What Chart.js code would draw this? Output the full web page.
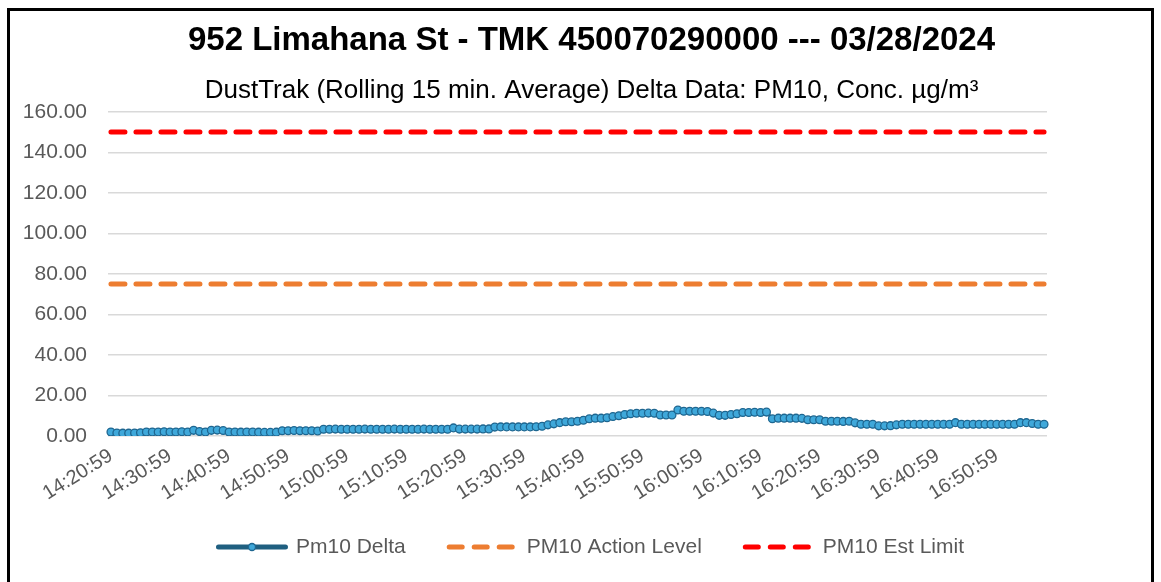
<!DOCTYPE html>
<html>
<head>
<meta charset="utf-8">
<script src="https://cdn.jsdelivr.net/npm/chart.js@4.4.1/dist/chart.umd.min.js"></script>
<style>
  html, body { margin: 0; padding: 0; background: #fff; }
  #frame { position: absolute; left: 7px; top: 8px; width: 1147px; height: 600px; border: 3px solid #000; box-sizing: border-box; }
  #wrap { position: absolute; left: 0; top: 0; width: 1161px; height: 582px; }
</style>
</head>
<body>
<div id="frame"></div>
<div id="wrap"><canvas id="dustChart"></canvas></div>
<script>
// one reading per minute, 14:20:59 .. 16:58:59
const times = [];
for (let m = 14 * 60 + 20; m <= 16 * 60 + 58; m++) {
  times.push(Math.floor(m / 60) + ':' + String(m % 60).padStart(2, '0') + ':59');
}

const pm10Delta = [
  2.0, 1.5, 1.4, 1.4, 1.5, 1.6,
  2.0, 2.0, 2.0, 2.1, 2.0, 2.0, 2.1, 2.0,
  2.8, 2.2, 2.0, 2.8, 2.9, 2.7,
  2.0, 2.0, 1.9, 2.0, 2.0, 1.9,
  1.8, 1.8, 1.9,
  2.6, 2.6, 2.7, 2.6, 2.6, 2.6, 2.5,
  3.3, 3.3, 3.4, 3.3, 3.3, 3.3, 3.3, 3.4, 3.3, 3.3, 3.3,
  3.3, 3.4, 3.3, 3.3, 3.3, 3.3, 3.4, 3.3, 3.3, 3.3, 3.3,
  4.0,
  3.4, 3.4, 3.4, 3.4, 3.5, 3.5,
  4.4, 4.5, 4.5, 4.5, 4.5, 4.5, 4.5, 4.6,
  4.8, 5.5, 6.0, 6.6, 7.0, 7.0, 7.3, 7.8, 8.5, 8.8, 8.8, 9.0, 9.6, 10.0, 10.6, 11.0,
  11.2, 11.2, 11.3, 11.2,
  10.4, 10.4, 10.4,
  12.8,
  12.2, 12.2, 12.2, 12.2, 12.1,
  11.3, 10.2, 10.2, 10.6, 11.0,
  11.6, 11.6, 11.7, 11.6, 11.8,
  8.5, 8.8, 8.8, 8.8, 8.8, 8.7,
  8.0, 8.0, 8.0,
  7.3, 7.3, 7.3, 7.2, 7.3,
  6.5, 5.8, 5.8, 5.8,
  5.0, 5.0, 5.1, 5.5,
  5.8, 5.8, 5.8, 5.8, 5.8, 5.8, 5.8, 5.8, 5.8,
  6.6,
  5.8, 5.8, 5.8, 5.8, 5.8, 5.8, 5.8, 5.8, 5.8, 5.8,
  6.6, 6.6, 6.2, 5.8, 5.8
];

const actionLevel = 75;
const estLimit = 150;

const yTicks = [0, 20, 40, 60, 80, 100, 120, 140, 160];

const FONT = '"Liberation Sans", Arial, sans-serif';
const GREY = '#595959';

// Excel style legend drawn under the axis
const excelLegend = {
  id: 'excelLegend',
  afterDraw(chart) {
    const ctx = chart.ctx;
    const sets = chart.data.datasets;
    const symW = 72, gap = 8, itemGap = 41, cy = 547;
    ctx.save();
    ctx.font = '21px ' + FONT;
    const widths = sets.map(ds => symW + gap + ctx.measureText(ds.label).width);
    const total = widths.reduce((a, b) => a + b, 0) + itemGap * (sets.length - 1);
    let x = 590 - total / 2;
    sets.forEach((ds, i) => {
      ctx.beginPath();
      ctx.lineCap = 'round';
      ctx.lineWidth = 5;
      ctx.strokeStyle = ds.borderColor;
      ctx.setLineDash(ds.borderDash ? [13, 12] : []);
      ctx.moveTo(x + 2.5, cy);
      ctx.lineTo(x + symW - 2.5, cy);
      ctx.stroke();
      ctx.setLineDash([]);
      if (ds.pointRadius) {
        ctx.beginPath();
        ctx.arc(x + symW / 2, cy, 3.5, 0, Math.PI * 2);
        ctx.fillStyle = ds.pointBackgroundColor;
        ctx.fill();
        ctx.lineWidth = 1.3;
        ctx.strokeStyle = ds.pointBorderColor;
        ctx.stroke();
      }
      ctx.fillStyle = GREY;
      ctx.textBaseline = 'middle';
      ctx.textAlign = 'left';
      ctx.fillText(ds.label, x + symW + gap, cy);
      x += widths[i] + itemGap;
    });
    ctx.restore();
  }
};

const ctx = document.getElementById('dustChart').getContext('2d');
const first = times[0], last = times[times.length - 1];

new Chart(ctx, {
  type: 'line',
  data: {
    labels: times,
    datasets: [{
      label: 'Pm10 Delta',
      data: pm10Delta,
      borderColor: '#1F5F80',
      borderWidth: 3,
      pointRadius: 3.9,
      pointBorderWidth: 1.3,
      pointBackgroundColor: '#3FA8DA',
      pointBorderColor: '#1E6690',
      tension: 0,
      order: 0
    }, {
      label: 'PM10 Action Level',
      data: [{ x: first, y: actionLevel }, { x: last, y: actionLevel }],
      borderColor: '#ED7D31',
      borderWidth: 5,
      borderDash: [14, 11],
      borderCapStyle: 'round',
      pointRadius: 0,
      order: 1
    }, {
      label: 'PM10 Est Limit',
      data: [{ x: first, y: estLimit }, { x: last, y: estLimit }],
      borderColor: '#FF0000',
      borderWidth: 5,
      borderDash: [14, 11],
      borderCapStyle: 'round',
      pointRadius: 0,
      order: 1
    }]
  },
  options: {
    responsive: true,
    maintainAspectRatio: false,
    animation: false,
    layout: { padding: { left: 22, right: 0, top: 0, bottom: 52 } },
    plugins: {
      legend: { display: false },
      tooltip: { enabled: false },
      title: {
        display: true,
        text: '952 Limahana St - TMK 450070290000 --- 03/28/2024',
        color: '#000',
        font: { family: FONT, size: 33, weight: 'bold' },
        padding: { top: 21, bottom: 15 }
      },
      subtitle: {
        display: true,
        text: 'DustTrak (Rolling 15 min. Average) Delta Data: PM10, Conc. µg/m³',
        color: '#000',
        font: { family: FONT, size: 26 },
        padding: { top: 0, bottom: 5 }
      }
    },
    scales: {
      x: {
        offset: true,
        grid: { display: false },
        border: { display: false },
        ticks: {
          autoSkip: false,
          minRotation: 32,
          maxRotation: 32,
          padding: 0,
          color: GREY,
          font: { family: FONT, size: 20 },
          callback: (v, i) => (i % 10 === 0 ? times[i] : '')
        },
        afterFit: s => { s.height = 94; }
      },
      y: {
        min: yTicks[0],
        max: yTicks[yTicks.length - 1],
        afterBuildTicks: s => { s.ticks = yTicks.map(v => ({ value: v })); },
        grid: { color: '#D9D9D9', lineWidth: 1.5, drawTicks: false },
        border: { display: false },
        ticks: {
          padding: 21,
          color: GREY,
          font: { family: FONT, size: 21 },
          callback: v => v.toFixed(2)
        },
        afterFit: s => { s.width = 86; }
      },
      yR: {
        position: 'right',
        grid: { display: false, drawTicks: false },
        border: { display: false },
        ticks: { display: false },
        afterFit: s => { s.width = 114; }
      }
    }
  },
  plugins: [excelLegend]
});
</script>
</body>
</html>
